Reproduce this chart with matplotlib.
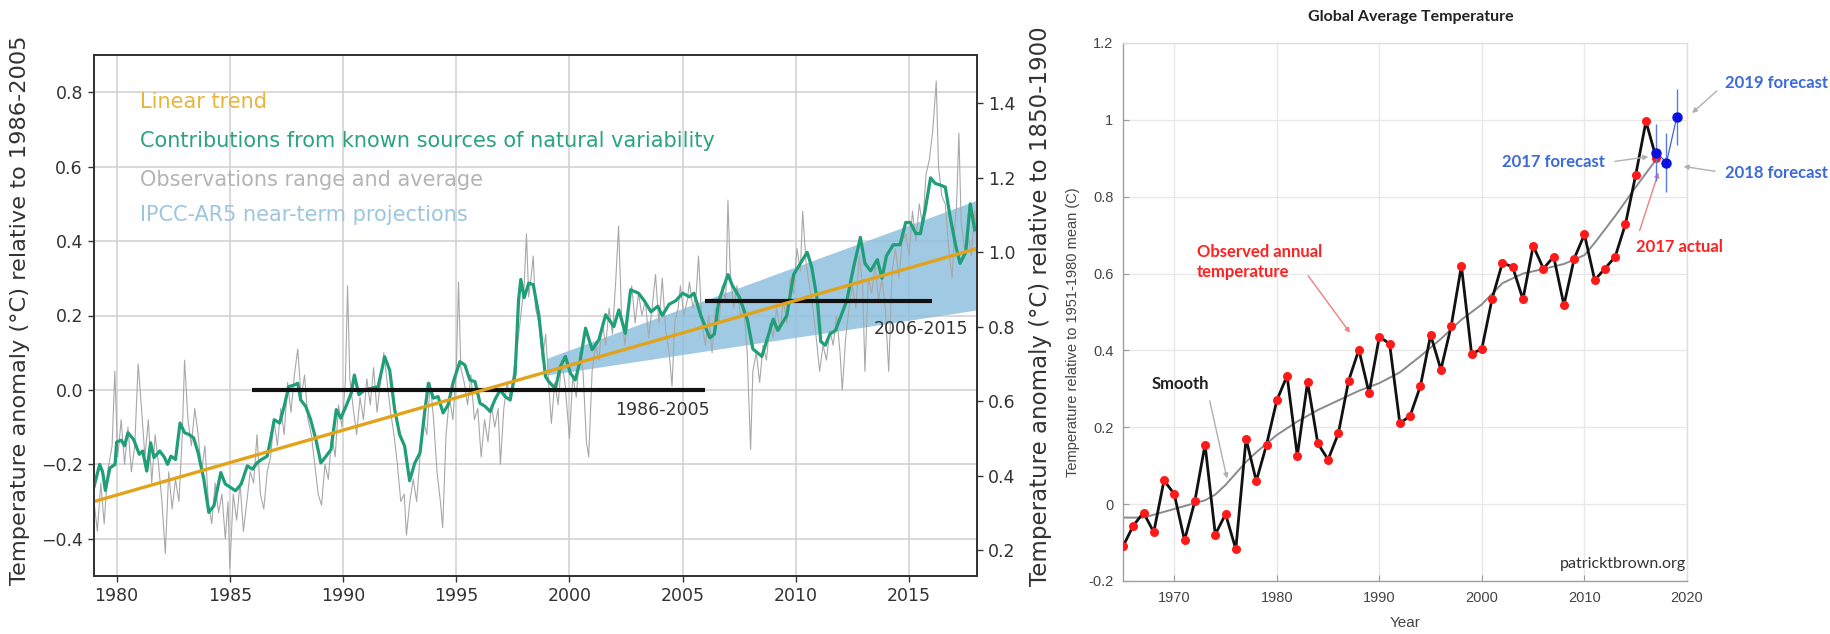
import matplotlib
matplotlib.use("Agg")
import matplotlib.pyplot as plt
from matplotlib.ticker import FuncFormatter

# ---------------- LEFT PANEL DATA ----------------
obs_points = [
    (1979.0, -0.30), (1979.15, -0.38), (1979.3, -0.25), (1979.45, -0.36), (1979.6, -0.22),
    (1979.8, -0.15), (1979.92, 0.05), (1980.05, -0.18), (1980.2, -0.08), (1980.35, -0.20),
    (1980.5, -0.10), (1980.65, -0.22), (1980.8, -0.15), (1980.95, 0.07), (1981.1, -0.05),
    (1981.25, -0.18), (1981.4, -0.08), (1981.55, -0.25), (1981.7, -0.12), (1981.85, -0.20),
    (1982.0, -0.30), (1982.15, -0.44), (1982.3, -0.22), (1982.45, -0.32), (1982.6, -0.24),
    (1982.75, -0.30), (1982.9, -0.12), (1983.0, 0.08), (1983.15, -0.08), (1983.3, -0.15),
    (1983.45, -0.05), (1983.6, -0.12), (1983.75, -0.22), (1983.9, -0.15), (1984.05, -0.30),
    (1984.2, -0.36), (1984.35, -0.25), (1984.5, -0.33), (1984.65, -0.28), (1984.8, -0.40),
    (1984.92, -0.30), (1985.0, -0.48), (1985.15, -0.28), (1985.3, -0.35), (1985.45, -0.25),
    (1985.6, -0.38), (1985.75, -0.30), (1985.9, -0.22), (1986.05, -0.25), (1986.2, -0.12),
    (1986.35, -0.28), (1986.5, -0.32), (1986.65, -0.22), (1986.8, -0.18), (1986.95, -0.08),
    (1987.1, -0.15), (1987.25, -0.05), (1987.4, -0.12), (1987.55, 0.02), (1987.7, -0.06),
    (1987.85, 0.04), (1988.0, 0.11), (1988.15, -0.02), (1988.3, 0.04), (1988.45, -0.08),
    (1988.6, -0.12), (1988.75, -0.20), (1988.9, -0.28), (1989.05, -0.31), (1989.2, -0.20),
    (1989.35, -0.24), (1989.5, -0.12), (1989.65, -0.18), (1989.8, -0.04), (1989.95, -0.10),
    (1990.1, 0.02), (1990.2, 0.28), (1990.3, 0.03), (1990.45, -0.05), (1990.6, -0.12),
    (1990.75, -0.02), (1990.9, -0.08), (1991.05, 0.03), (1991.2, -0.04), (1991.35, 0.06),
    (1991.5, -0.06), (1991.65, 0.02), (1991.8, 0.10), (1991.95, 0.02), (1992.1, -0.06),
    (1992.25, -0.12), (1992.4, -0.20), (1992.55, -0.30), (1992.7, -0.28), (1992.8, -0.39),
    (1992.95, -0.30), (1993.1, -0.24), (1993.25, -0.30), (1993.4, -0.18), (1993.55, -0.08),
    (1993.7, -0.12), (1993.85, 0.02), (1994.0, -0.08), (1994.15, -0.22), (1994.3, -0.30),
    (1994.4, -0.37), (1994.55, -0.12), (1994.7, -0.02), (1994.85, -0.08), (1995.0, 0.05),
    (1995.1, 0.29), (1995.2, 0.06), (1995.35, 0.02), (1995.5, -0.04), (1995.65, 0.04),
    (1995.8, -0.08), (1995.95, -0.05), (1996.1, -0.18), (1996.25, -0.08), (1996.4, -0.14),
    (1996.55, -0.04), (1996.7, -0.10), (1996.85, -0.05), (1996.95, -0.20), (1997.1, -0.05),
    (1997.25, 0.02), (1997.4, -0.03), (1997.55, 0.06), (1997.7, 0.12), (1997.85, 0.20),
    (1998.0, 0.28), (1998.1, 0.42), (1998.2, 0.25), (1998.3, 0.30), (1998.4, 0.36),
    (1998.5, 0.22), (1998.65, 0.18), (1998.8, 0.08), (1998.95, 0.15), (1999.1, 0.00),
    (1999.2, -0.09), (1999.35, 0.02), (1999.5, -0.04), (1999.65, 0.08), (1999.8, 0.02),
    (2000.0, -0.13), (2000.15, 0.04), (2000.3, -0.02), (2000.45, 0.10), (2000.6, 0.05),
    (2000.75, -0.14), (2000.85, -0.18), (2001.0, 0.05), (2001.15, 0.12), (2001.3, 0.08),
    (2001.45, 0.18), (2001.6, 0.12), (2001.75, 0.22), (2001.9, 0.15), (2002.05, 0.30),
    (2002.17, 0.44), (2002.3, 0.20), (2002.45, 0.12), (2002.6, 0.22), (2002.75, 0.28),
    (2002.9, 0.18), (2003.05, 0.26), (2003.2, 0.20), (2003.35, 0.24), (2003.5, 0.14),
    (2003.65, 0.22), (2003.8, 0.31), (2003.95, 0.18), (2004.1, 0.30), (2004.25, 0.16),
    (2004.4, 0.10), (2004.53, 0.01), (2004.65, 0.18), (2004.8, 0.22), (2004.9, 0.28),
    (2005.05, 0.20), (2005.2, 0.24), (2005.3, 0.29), (2005.45, 0.22), (2005.6, 0.26),
    (2005.7, 0.36), (2005.85, 0.18), (2006.0, 0.12), (2006.15, 0.20), (2006.3, 0.10),
    (2006.45, 0.22), (2006.6, 0.18), (2006.75, 0.28), (2006.9, 0.24), (2007.0, 0.51),
    (2007.1, 0.32), (2007.25, 0.22), (2007.4, 0.28), (2007.55, 0.20), (2007.7, 0.22),
    (2007.85, 0.10), (2008.0, -0.16), (2008.1, 0.05), (2008.25, 0.10), (2008.4, 0.02),
    (2008.55, 0.12), (2008.7, 0.08), (2008.85, 0.18), (2009.0, 0.14), (2009.15, 0.22),
    (2009.3, 0.16), (2009.45, 0.24), (2009.6, 0.18), (2009.75, 0.30), (2009.9, 0.26),
    (2010.05, 0.38), (2010.2, 0.32), (2010.3, 0.48), (2010.45, 0.34), (2010.6, 0.28),
    (2010.75, 0.22), (2010.9, 0.14), (2011.05, 0.05), (2011.2, 0.12), (2011.35, 0.08),
    (2011.5, 0.16), (2011.65, 0.12), (2011.8, 0.20), (2011.95, 0.10), (2012.05, 0.00),
    (2012.2, 0.14), (2012.35, 0.22), (2012.5, 0.28), (2012.65, 0.22), (2012.8, 0.36),
    (2012.95, 0.28), (2013.05, 0.05), (2013.2, 0.30), (2013.35, 0.26), (2013.5, 0.34),
    (2013.65, 0.24), (2013.8, 0.30), (2013.95, 0.22), (2014.1, 0.05), (2014.25, 0.32),
    (2014.4, 0.38), (2014.55, 0.30), (2014.7, 0.40), (2014.85, 0.42), (2015.0, 0.36),
    (2015.15, 0.48), (2015.3, 0.40), (2015.45, 0.50), (2015.6, 0.44), (2015.75, 0.58),
    (2015.9, 0.62), (2016.05, 0.70), (2016.2, 0.83), (2016.3, 0.60), (2016.45, 0.52),
    (2016.6, 0.50), (2016.75, 0.38), (2016.9, 0.30), (2017.0, 0.42), (2017.1, 0.50),
    (2017.2, 0.69), (2017.3, 0.45), (2017.45, 0.38), (2017.6, 0.42), (2017.75, 0.36),
    (2017.9, 0.48), (2018.0, 0.40),
]

natural_points = [
    (1979.0, -0.26), (1979.25, -0.20), (1979.38, -0.22), (1979.5, -0.27), (1979.7, -0.21),
    (1979.93, -0.20), (1980.0, -0.14), (1980.2, -0.135), (1980.35, -0.15), (1980.5, -0.115),
    (1980.75, -0.133), (1981.0, -0.173), (1981.15, -0.164), (1981.33, -0.218), (1981.5, -0.142),
    (1981.65, -0.182), (1981.9, -0.164), (1982.1, -0.18), (1982.25, -0.20), (1982.4, -0.178),
    (1982.6, -0.187), (1982.8, -0.089), (1983.0, -0.115), (1983.2, -0.12), (1983.4, -0.129),
    (1983.6, -0.169), (1983.85, -0.24), (1984.07, -0.329), (1984.3, -0.311), (1984.6, -0.222),
    (1984.8, -0.253), (1985.03, -0.262), (1985.25, -0.271), (1985.5, -0.253), (1985.77, -0.204),
    (1986.0, -0.213), (1986.2, -0.196), (1986.4, -0.187), (1986.65, -0.178), (1986.8, -0.133),
    (1986.96, -0.08), (1987.2, -0.089), (1987.4, -0.044), (1987.6, 0.009), (1987.84, 0.013),
    (1988.0, 0.018), (1988.13, -0.027), (1988.35, -0.044), (1988.57, -0.08), (1988.8, -0.133),
    (1989.02, -0.196), (1989.25, -0.178), (1989.47, -0.16), (1989.7, -0.053), (1989.9, -0.076),
    (1990.13, -0.044), (1990.36, -0.009), (1990.5, 0.04), (1990.7, -0.013), (1990.95, 0.0),
    (1991.25, 0.004), (1991.55, 0.009), (1991.84, 0.089), (1992.06, 0.053), (1992.28, -0.053),
    (1992.5, -0.12), (1992.72, -0.151), (1992.94, -0.244), (1993.17, -0.196), (1993.4, -0.169),
    (1993.6, -0.062), (1993.77, 0.018), (1993.99, -0.022), (1994.2, -0.018), (1994.42, -0.062),
    (1994.64, -0.04), (1994.87, 0.022), (1995.16, 0.076), (1995.38, 0.067), (1995.6, 0.027),
    (1995.83, 0.022), (1996.05, -0.036), (1996.27, -0.044), (1996.5, -0.058), (1996.7, -0.027),
    (1996.94, 0.0), (1997.16, -0.018), (1997.38, -0.027), (1997.6, 0.044), (1997.75, 0.24),
    (1997.85, 0.297), (1998.0, 0.248), (1998.2, 0.287), (1998.4, 0.283), (1998.65, 0.20),
    (1998.94, 0.036), (1999.09, 0.022), (1999.38, 0.004), (1999.6, 0.063), (1999.82, 0.09),
    (2000.04, 0.045), (2000.26, 0.027), (2000.48, 0.081), (2000.71, 0.166), (2001.0, 0.108),
    (2001.3, 0.135), (2001.6, 0.202), (2001.96, 0.17), (2002.18, 0.215), (2002.47, 0.152),
    (2002.7, 0.269), (2003.05, 0.26), (2003.3, 0.24), (2003.6, 0.21), (2003.9, 0.225),
    (2004.1, 0.20), (2004.4, 0.23), (2004.7, 0.24), (2005.0, 0.26), (2005.3, 0.25),
    (2005.5, 0.26), (2005.8, 0.20), (2006.2, 0.14), (2006.4, 0.15), (2006.6, 0.24),
    (2007.0, 0.31), (2007.2, 0.28), (2007.5, 0.25), (2007.85, 0.19), (2008.1, 0.11),
    (2008.5, 0.09), (2008.75, 0.14), (2009.0, 0.19), (2009.2, 0.16), (2009.6, 0.20),
    (2009.9, 0.31), (2010.3, 0.35), (2010.5, 0.37), (2010.7, 0.33), (2010.95, 0.24),
    (2011.1, 0.13), (2011.3, 0.12), (2011.5, 0.15), (2011.75, 0.16), (2012.0, 0.20),
    (2012.25, 0.24), (2012.55, 0.33), (2012.85, 0.41), (2013.05, 0.34), (2013.3, 0.32),
    (2013.6, 0.35), (2013.8, 0.30), (2014.0, 0.36), (2014.3, 0.39), (2014.6, 0.39),
    (2014.85, 0.45), (2015.05, 0.45), (2015.3, 0.42), (2015.5, 0.42), (2015.7, 0.48),
    (2015.95, 0.57), (2016.15, 0.555), (2016.4, 0.55), (2016.6, 0.545), (2016.8, 0.47),
    (2017.05, 0.39), (2017.25, 0.34), (2017.5, 0.37), (2017.7, 0.50), (2017.9, 0.43),
]

trend_years = [1979, 2018]
trend_values = [-0.30, 0.38]

proj_years = [1999, 2018]
proj_lower = [0.04, 0.215]
proj_upper = [0.085, 0.51]

period_labels = ["1986-2005", "2006-2015"]
period_starts = [1986, 2006]
period_ends = [2006, 2016]
period_means = [0.0, 0.24]

offset_1850_1900 = 0.63

left_xticks = [1980, 1985, 1990, 1995, 2000, 2005, 2010, 2015]
left_yticks = [-0.4, -0.2, 0.0, 0.2, 0.4, 0.6, 0.8]
right_yticks = [0.2, 0.4, 0.6, 0.8, 1.0, 1.2, 1.4]

legend_labels = ["Linear trend", "Contributions from known sources of natural variability",
                 "Observations range and average", "IPCC-AR5 near-term projections"]

# ---------------- RIGHT PANEL DATA ----------------
annual_years = list(range(1965, 2018))
annual_temps = [
    -0.11, -0.056, -0.022, -0.073, 0.062, 0.026, -0.094, 0.007, 0.155, -0.079,
    -0.026, -0.117, 0.17, 0.06, 0.155, 0.27, 0.334, 0.126, 0.318, 0.158,
    0.116, 0.184, 0.321, 0.402, 0.289, 0.436, 0.417, 0.21, 0.23, 0.307,
    0.44, 0.35, 0.463, 0.62, 0.39, 0.405, 0.535, 0.628, 0.617, 0.533,
    0.672, 0.613, 0.644, 0.518, 0.639, 0.702, 0.583, 0.613, 0.644, 0.729,
    0.857, 0.996, 0.90,
]
smooth_years = [1965, 1967, 1969, 1971, 1973, 1974, 1975, 1976, 1977, 1978, 1980, 1982,
                1984, 1986, 1988, 1990, 1992, 1994, 1996, 1998, 2000, 2002, 2004, 2006,
                2008, 2010, 2011, 2013, 2015, 2017]
smooth_temps = [-0.035, -0.035, -0.02, -0.005, 0.01, 0.025, 0.05, 0.08, 0.11, 0.135, 0.18, 0.215,
                0.245, 0.27, 0.295, 0.315, 0.343, 0.385, 0.43, 0.48, 0.52, 0.575, 0.60, 0.612,
                0.625, 0.648, 0.68, 0.75, 0.825, 0.897]
forecast_years = [2017, 2018, 2019]
forecast_temps = [0.915, 0.889, 1.007]
forecast_err = [0.075, 0.076, 0.072]

# ---------------- FIGURE ----------------
W, H = 1831, 634
fig = plt.figure(figsize=(W / 100, H / 100), dpi=100)

def fx(px):
    return px / W

def fy(py):
    return 1 - py / H

# ---- left panel ----
ax = fig.add_axes([fx(94), fy(576), fx(977 - 94), (576 - 55) / H])
ax.set_xlim(1979, 2018)
ax.set_ylim(-0.5, 0.9)

GREEN = "#1f9e77"
ORANGE = "#e2a31c"
BAND = "#8fc0df"
GREY = "#a8a8a8"

ax.fill_between(proj_years, proj_lower, proj_upper, color=BAND, alpha=0.85, lw=0, zorder=1)
oy = [p[0] for p in obs_points]
ov = [p[1] for p in obs_points]
ax.plot(oy, ov, color=GREY, lw=0.8, zorder=2)
ny = [p[0] for p in natural_points]
nv = [p[1] for p in natural_points]
ax.plot(ny, nv, color=GREEN, lw=2.3, zorder=3)
for s, e, m in zip(period_starts, period_ends, period_means):
    ax.plot([s, e], [m, m], color="#111111", lw=3.0, solid_capstyle="butt", zorder=4)
ax.plot(trend_years, trend_values, color=ORANGE, lw=2.4, zorder=5)

ax.text(2006.2, -0.055, period_labels[0], fontsize=12.5, color="#333333", ha="right", va="center", zorder=6)
ax.text(2017.6, 0.164, period_labels[1], fontsize=12.5, color="#333333", ha="right", va="center", zorder=6)

legend_colors = ["#e8b53a", "#2aa47c", "#b4b4b4", "#9cc6de"]
legend_y = [0.773, 0.668, 0.565, 0.471]
for lab, col, yy in zip(legend_labels, legend_colors, legend_y):
    ax.text(1981.03, yy, lab, fontsize=15, color=col, ha="left", va="center", zorder=6)

ax.set_xticks(left_xticks)
ax.set_yticks(left_yticks)
ax.set_yticklabels([f"{v:.1f}".replace("-", "\u2212") for v in left_yticks])
ax.grid(True, color="#cfcfcf", lw=1.1)
ax.set_axisbelow(True)
ax.tick_params(direction="out", length=4, width=1, colors="#333333", labelsize=12.5, pad=4)
for sp in ax.spines.values():
    sp.set_color("#333333")
    sp.set_linewidth(1.3)

ax2 = ax.twinx()
ax2.set_ylim(-0.5 + offset_1850_1900, 0.9 + offset_1850_1900)
ax2.set_yticks(right_yticks)
ax2.set_yticklabels([f"{v:.1f}" for v in right_yticks])
ax2.tick_params(direction="out", length=4, width=1, colors="#333333", labelsize=12.5, pad=4)
for sp in ax2.spines.values():
    sp.set_color("#333333")
    sp.set_linewidth(1.3)

fig.text(fx(20), fy(310), "Temperature anomaly (\u00b0C) relative to 1986-2005", rotation=90,
         ha="center", va="center", fontsize=16.2, color="#333333")
fig.text(fx(1040), fy(306), "Temperature anomaly (\u00b0C) relative to 1850-1900", rotation=90,
         ha="center", va="center", fontsize=16.5, color="#333333")

# ---- right panel ----
SANS = ["Liberation Sans", "DejaVu Sans"]
CAL = ["Lato", "DejaVu Sans"]
bx = fig.add_axes([fx(1123), fy(581), fx(1687 - 1123), (581 - 43) / H])
bx.set_xlim(1965, 2020)
bx.set_ylim(-0.2, 1.2)
bx.set_xticks([1970, 1980, 1990, 2000, 2010, 2020])
bx.set_yticks([-0.2, 0, 0.2, 0.4, 0.6, 0.8, 1.0, 1.2])
bx.yaxis.set_major_formatter(FuncFormatter(lambda v, p: f"{v:g}" if abs(v) > 1e-9 else "0"))
bx.grid(True, color="#e8e8e8", lw=1.0)
bx.set_axisbelow(True)
bx.tick_params(direction="in", length=4, width=0.8, colors="#9a9a9a", labelcolor="#444444",
               labelsize=10.5, pad=7)
for lab in bx.get_xticklabels() + bx.get_yticklabels():
    lab.set_family(SANS)
for k, sp in bx.spines.items():
    sp.set_color("#a0a0a0" if k in ("left", "bottom") else "#e0e0e0")
    sp.set_linewidth(1.0)

bx.plot(smooth_years, smooth_temps, color="#8a8a8a", lw=1.4, zorder=2)
bx.plot(annual_years, annual_temps, color="#111111", lw=2.0, zorder=3)
bx.plot(annual_years, annual_temps, "o", color="#ff1a1a", ms=6.5, mec="none", zorder=4)
bx.plot(forecast_years, forecast_temps, color="#3f5fe0", lw=0.9, zorder=5)
bx.errorbar(forecast_years, forecast_temps, yerr=forecast_err, fmt="o", color="#0a10e0",
            ecolor="#5a78e6", elinewidth=1.0, ms=6.5, capsize=0, zorder=6)

bx.set_title("Global Average Temperature", fontsize=11.5, fontweight="bold", family=CAL,
             color="#222222", pad=16, x=0.51)
bx.set_xlabel("Year", fontsize=11, family=SANS, color="#444444", labelpad=8)
fig.text(fx(1073), fy(332), "Temperature relative to 1951-1980 mean (C)", rotation=90,
         ha="center", va="center", fontsize=10.5, family=SANS, color="#444444")

arrow_grey = dict(arrowstyle="-|>", color="#b0b0b0", lw=1.0, mutation_scale=7)
arrow_red = dict(arrowstyle="-|>", color="#f08080", lw=1.0, mutation_scale=7)

AFS = 12
bx.text(1972.2, 0.63, "Observed annual\ntemperature", fontsize=AFS, fontweight="bold",
        family=CAL, color="#ff2020", ha="left", va="center", linespacing=1.25)
bx.annotate("", xy=(1987.3, 0.44), xytext=(1982.9, 0.60), arrowprops=arrow_red)

bx.text(1967.8, 0.313, "Smooth", fontsize=AFS, fontweight="bold", family=CAL,
        color="#222222", ha="left", va="center")
bx.annotate("", xy=(1975.2, 0.06), xytext=(1973.4, 0.276), arrowprops=arrow_grey)

BLUE_T = "#3c6ad6"
bx.text(2012.0, 0.891, "2017 forecast", fontsize=AFS, fontweight="bold", family=CAL,
        color=BLUE_T, ha="right", va="center")
bx.annotate("", xy=(2016.5, 0.905), xytext=(2012.7, 0.891), arrowprops=arrow_grey)

bx.text(2023.7, 0.863, "2018 forecast", fontsize=AFS, fontweight="bold", family=CAL,
        color=BLUE_T, ha="left", va="center", clip_on=False)
bx.annotate("", xy=(2019.4, 0.88), xytext=(2023.0, 0.865), arrowprops=arrow_grey,
            annotation_clip=False)

bx.text(2023.7, 1.096, "2019 forecast", fontsize=AFS, fontweight="bold", family=CAL,
        color=BLUE_T, ha="left", va="center", clip_on=False)
bx.annotate("", xy=(2020.3, 1.013), xytext=(2023.1, 1.08), arrowprops=arrow_grey,
            annotation_clip=False)

bx.text(2015.0, 0.67, "2017 actual", fontsize=AFS, fontweight="bold", family=CAL,
        color="#ff2020", ha="left", va="center", clip_on=False)
bx.annotate("", xy=(2017.3, 0.87), xytext=(2015.3, 0.705), arrowprops=arrow_red)

bx.text(2019.9, -0.156, "patricktbrown.org", fontsize=11.5, family=CAL, color="#333333",
        ha="right", va="center")

fig.savefig("out.png", dpi=100)
